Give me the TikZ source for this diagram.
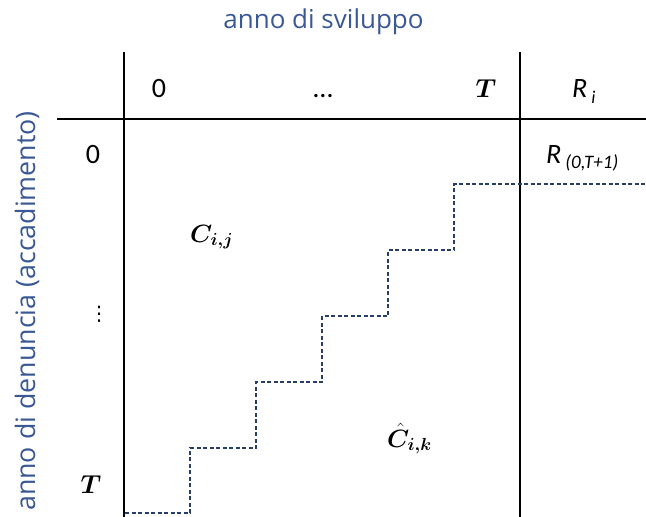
\RequirePackage{fix-cm}
\documentclass[tikz,border=0pt]{standalone}
\usepackage{bm}
\usepackage{fontspec}
\setmainfont{Carlito}
\newfontfamily\labelfont{Open Sans}
\newfontfamily\symbfont{DejaVu Sans}

\definecolor{labelblue}{RGB}{58,88,150}
\definecolor{stairblue}{RGB}{40,62,105}

\tikzset{
  axislabel/.style={text=labelblue, inner sep=0pt, anchor=base, font=\labelfont\fontsize{26}{30}\selectfont},
  cell/.style={inner sep=0pt, anchor=base, font=\fontsize{28}{32}\selectfont},
  mathcell/.style={inner sep=0pt, anchor=base west, font=\fontsize{25}{30}\selectfont},
  rule/.style={line width=1.5pt},
  stair/.style={stairblue, line width=1.4pt, dash pattern=on 4pt off 2.5pt},
}

\begin{document}
\begin{tikzpicture}[x=1pt,y=-1pt]
\useasboundingbox (0,0) rectangle (646,517);

% titoli degli assi
\node[axislabel] (svil) at (323.5,28) {anno di sviluppo};
\node[axislabel, rotate=90, font=\labelfont\fontsize{26.8}{30}\selectfont] (denu) at (35,311) {anno di denuncia (accadimento)};

% griglia
\draw[rule] (124,52) -- (124,517);
\draw[rule] (520,52) -- (520,517);
\draw[rule] (57,119) -- (646,119);

% intestazione colonne
\node[cell] (hzero) at (159,97) {0};
\node[cell] (hdots) at (323,97) {\dots};
\node[cell, font=\fontsize{26}{32}\selectfont] (hT) at (486,97) {$\bm{T}$};
\node[cell, anchor=base west] (hR) at (572,97) {\itshape R\hspace{4pt}\raisebox{-6pt}{\fontsize{18}{20}\selectfont i}};

% intestazione righe
\node[cell] (vzero) at (93,163) {0};
\node[inner sep=0pt, font=\symbfont\fontsize{20}{24}\selectfont] (vdots) at (99,314) {⋮};
\node[cell, font=\fontsize{26}{32}\selectfont] (vT) at (91,493) {$\bm{T}$};

% riserve
\node[cell, anchor=base west] (rzero) at (546,163) {\itshape R\hspace{4pt}\raisebox{-5pt}{\fontsize{19}{22}\selectfont (0,T+1)}};

% triangolo osservato / stimato
\node[mathcell] (cij) at (190,242) {$\bm{C_{i,j}}$};
\node[mathcell] (cik) at (387,447) {$\bm{\hat{C}_{i,k}}$};

% scalinata
\draw[stair] (125,513) -- (190,513) -- (190,448) -- (256,448) -- (256,382)
  -- (322,382) -- (322,316) -- (388,316) -- (388,250) -- (454,250)
  -- (454,184) -- (646,184);
\end{tikzpicture}
\end{document}
